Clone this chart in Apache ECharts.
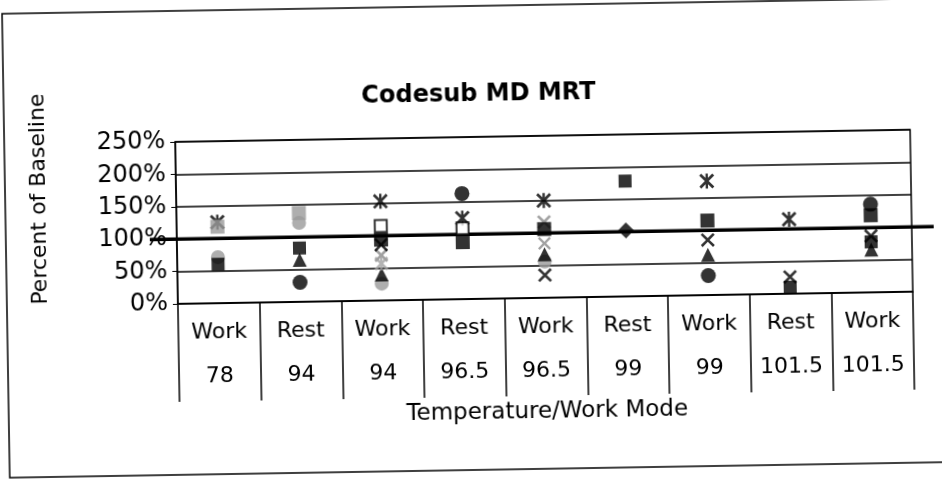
<!DOCTYPE html>
<html>
<head>
<meta charset="utf-8">
<script src="https://cdn.jsdelivr.net/npm/echarts@6/dist/echarts.min.js"></script>
<style>
  html, body { margin: 0; padding: 0; background: #fff; }
  #main { width: 942px; height: 495px; transform: rotate(-0.95deg); }
</style>
</head>
<body>
<div id="main"></div>
<script>
// category labels (two rows: mode over temperature)
const modes = ['Work', 'Rest', 'Work', 'Rest', 'Work', 'Rest', 'Work', 'Rest', 'Work']
const temps = ['78', '94', '94', '96.5', '96.5', '99', '99', '101.5', '101.5']
const yTicks = [0, 0.5, 1, 1.5, 2, 2.5]

// percent of baseline (null = no point)
const sAsterisk = [1.25, null, 1.53, 1.25, 1.50, null, 1.76, 1.15, null]
const sGraySquare = [1.18, 1.37, null, null, null, null, null, null, null]
const sGrayCircle = [0.71, 1.22, 0.26, null, 0.56, null, null, null, null]
const sSquare = [0.60, 0.83, null, null, null, 1.78, null, 0.10, 0.78]
const sHollowSquare = [null, null, 1.15, 1.09, null, null, null, null, null]
const sTriangle = [null, 0.65, 0.40, null, 0.67, null, 0.62, null, 0.66]
const sDiamond = [null, null, null, null, null, 1.02, null, null, null]
const sCircle = [null, 0.30, null, 1.63, null, null, 0.30, null, 1.36]
const sGrayX = [null, null, 0.70, null, 1.17, null, null, null, null]
const sGrayX2 = [null, null, null, null, 0.84, null, null, null, null]
const sBar = [null, null, 0.94, 0.88, 1.06, null, 1.15, null, 1.19]
const sX = [null, null, 0.86, null, 0.35, null, 0.85, 0.26, 0.87]
const sGrayStar = [null, null, 0.57, null, null, null, null, null, null]
const baseline = 1

const categories = modes.map((m, i) => m + '\n' + temps[i])

const xPath = 'path://M0,1.3 L1.3,0 L5,3.7 L8.7,0 L10,1.3 L6.3,5 L10,8.7 L8.7,10 L5,6.3 L1.3,10 L0,8.7 L3.7,5 Z'
const starPath = xPath + ' M4.2,0 L5.8,0 L5.8,10 L4.2,10 Z'
const barPath = 'path://M0,3 L10,3 L10,7 L0,7 Z'

function pts (arr) {
  return arr.map((v, i) => v == null ? null : [i, v]).filter(d => d)
}

function sc (name, arr, symbol, color, size, border) {
  return {
    name: name,
    type: 'scatter',
    data: pts(arr),
    symbol: symbol,
    symbolSize: size || 14,
    itemStyle: border ? { color: '#fff', borderColor: '#000', borderWidth: 2 } : { color: color },
    z: 5
  }
}

const mychart = echarts.init(document.getElementById('main'))
const font = 'DejaVu Sans, Arial, sans-serif'

const option = {
  backgroundColor: '#fff',
  animation: false,
  title: {
    text: 'Codesub MD MRT',
    left: 476,
    textAlign: 'center',
    top: 78,
    textStyle: { fontFamily: font, fontSize: 24, fontWeight: 'bold', color: '#000' }
  },
  graphic: [{
    type: 'rect',
    shape: { x: 6, y: 6, width: 960, height: 464 },
    style: { fill: 'none', stroke: '#000', lineWidth: 1.5 },
    silent: true
  }],
  grid: [
    { left: 177, right: 30, top: 137, bottom: 196, show: true, borderColor: '#000', borderWidth: 1.5 },
    { left: 150, right: 8, top: 137, bottom: 196 }
  ],
  xAxis: [{
    type: 'category',
    data: categories,
    gridIndex: 0,
    name: 'Temperature/Work Mode',
    nameLocation: 'middle',
    nameGap: 103,
    nameTextStyle: { fontFamily: font, fontSize: 23, color: '#000' },
    axisLine: { lineStyle: { color: '#000', width: 1.5 } },
    axisTick: { show: true, interval: 0, length: 98, lineStyle: { color: '#000', width: 1.5 } },
    axisLabel: { interval: 0, hideOverlap: false, fontFamily: font, fontSize: 22, color: '#000', lineHeight: 44, margin: 7 },
    splitLine: { show: false }
  }, {
    type: 'value',
    gridIndex: 1,
    min: 0,
    max: 1,
    show: false
  }],
  yAxis: [{
    type: 'value',
    gridIndex: 0,
    min: 0,
    max: 2.5,
    interval: 0.5,
    name: 'Percent of Baseline',
    nameLocation: 'middle',
    nameGap: 126,
    nameTextStyle: { fontFamily: font, fontSize: 22, color: '#000', padding: [0, 0, 0, 52] },
    axisLine: { show: true, lineStyle: { color: '#000', width: 1.5 } },
    axisTick: { show: true, length: 5, lineStyle: { color: '#000' } },
    axisLabel: {
      fontFamily: font, fontSize: 24, color: '#000', margin: 10,
      formatter: v => yTicks.indexOf(v) >= 0 ? Math.round(v * 100) + '%' : ''
    },
    splitLine: { show: true, lineStyle: { color: '#000', width: 1.5 } }
  }, {
    type: 'value',
    gridIndex: 1,
    min: 0,
    max: 2.5,
    show: false
  }],
  series: [
    {
      name: 'Baseline',
      type: 'line',
      xAxisIndex: 1,
      yAxisIndex: 1,
      data: [[0, baseline], [1, baseline]],
      symbol: 'none',
      lineStyle: { color: '#000', width: 3.5 },
      z: 3
    },
    sc('A', sAsterisk, starPath, '#000', 15),
    sc('B', sGraySquare, 'rect', '#9a9a9a', 14),
    sc('C', sGrayCircle, 'circle', '#9a9a9a', 14),
    sc('D', sSquare, 'rect', '#000', 13),
    sc('E', sHollowSquare, 'rect', '#000', 12, true),
    sc('F', sTriangle, 'triangle', '#000', 14),
    sc('G', sDiamond, 'diamond', '#000', 16),
    sc('H', sCircle, 'circle', '#000', 15),
    sc('I', sGrayX, xPath, '#8a8a8a', 14),
    sc('J', sGrayX2, xPath, '#8a8a8a', 13),
    sc('K', sBar, barPath, '#000', 14),
    sc('L', sX, xPath, '#000', 14),
    sc('M', sGrayStar, starPath, '#a0a0a0', 14)
  ]
}

mychart.setOption(option)
</script>
</body>
</html>
